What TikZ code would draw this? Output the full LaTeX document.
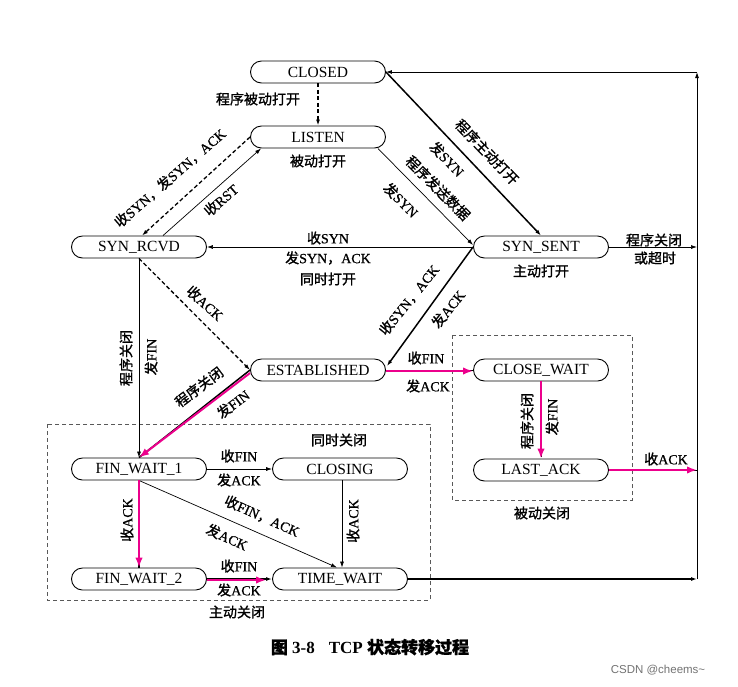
\documentclass[tikz,border=0pt]{standalone}
\usepackage{fontspec}
\setmainfont{Liberation Serif}
\setsansfont{Liberation Sans}
\newfontfamily\cjk[FakeBold=1.2]{Noto Sans CJK SC}
\newfontfamily\lblserif[FakeBold=0.8]{Liberation Serif}
\usetikzlibrary{arrows.meta}
\newcommand\zh[1]{{\cjk #1}}
\begin{document}
\begin{tikzpicture}[x=1pt,y=-1pt,
  state/.style={draw, line width=0.9pt, rounded corners=11pt, minimum width=135pt,
    minimum height=22pt, inner sep=0pt, font=\fontsize{15.5}{16}\selectfont},
  lbl/.style={inner sep=0pt, font=\lblserif\fontsize{14}{15}\selectfont},
  ar/.style={-{Latex[length=6pt,width=4pt]}, line width=0.7pt},
  thk/.style={line width=1.5pt},
  dsh/.style={line width=1.3pt, dash pattern=on 4pt off 2.5pt},
  dshthin/.style={line width=0.9pt, dash pattern=on 4pt off 2.5pt},
  mg/.style={draw=magenta, line width=2pt, -{Latex[length=10pt,width=7.5pt]}},
  box/.style={draw=black!65, line width=0.9pt, dash pattern=on 4pt off 3pt}]
\useasboundingbox[fill=white] (0,0) rectangle (738,686);

% dashed group boxes
\draw[box] (47,424) rectangle (430,600);
\draw[box] (452,335) rectangle (632,500);

% states
\node[state] (CLOSED) at (318,72) {CLOSED};
\node[state] (LISTEN) at (318,137) {LISTEN};
\node[state] (SYNR) at (139,247) {SYN\_RCVD};
\node[state] (SYNS) at (541,247) {SYN\_SENT};
\node[state] (EST) at (318,370) {ESTABLISHED};
\node[state] (CW) at (541,370) {CLOSE\_WAIT};
\node[state] (LA) at (541,470) {LAST\_ACK};
\node[state] (FW1) at (139,469) {FIN\_WAIT\_1};
\node[state] (CLG) at (340,469) {CLOSING};
\node[state] (FW2) at (139,579) {FIN\_WAIT\_2};
\node[state] (TW) at (340,579) {TIME\_WAIT};

\coordinate (rt) at (697,72);
\coordinate (r2) at (697,247);
\coordinate (r1) at (697,470);
\coordinate (rb) at (697,579);

% connectors
\draw[ar, dsh] (CLOSED.south) -- (LISTEN.north);
\draw[ar, dsh] (LISTEN.west) -- ([shift={(3,0)}]SYNR.north);
\draw[ar] ([shift={(24,0)}]SYNR.north) -- ([shift={(11,0)}]LISTEN.south west);
\draw[ar] ([shift={(-8,0)}]LISTEN.south east) -- ([shift={(0,-2)}]SYNS.west);
\draw[ar, thk] (CLOSED.east) -- (SYNS.north);
\draw[ar] (SYNS.west) -- (SYNR.east);
\draw[ar, thk] (SYNS.west) -- ([shift={(1,-4)}]EST.east);
\draw[ar, dsh] (SYNR.south) -- (EST.west);
\draw[ar] (SYNR.south) -- (FW1.north);
\draw[thk] (EST.west) -- (FW1.north);
\draw[mg] ([shift={(0,3)}]EST.west) -- (FW1.north);
\draw[dshthin] (EST.east) -- (CW.west);
\draw[mg] ([shift={(0,1)}]EST.east) -- ([shift={(0,1)}]CW.west);
\draw[dshthin] (CW.south) -- (LA.north);
\draw[mg] (CW.south) -- (LA.north);
\draw[dshthin] (LA.east) -- (r1);
\draw[mg] (LA.east) -- (r1);
\draw[ar] (SYNS.east) -- (r2);
\draw[ar] (FW1.east) -- (CLG.west);
\draw[ar] (FW1.south) -- ([shift={(-3,0)}]TW.north);
\draw[ar] ([shift={(2,0)}]CLG.south) -- ([shift={(2,0)}]TW.north);
\draw[thk] (FW1.south) -- (FW2.north);
\draw[mg] (FW1.south) -- (FW2.north);
\draw[ar, thk] (FW2.east) -- (TW.west);
\draw[mg] ([shift={(0,1)}]FW2.east) -- ([shift={(-6,1)}]TW.west);
\draw[ar, thk] (TW.east) -- (rb);
\draw[ar, line width=0.9pt] (rb) -- (rt);
\draw[ar, line width=0.9pt] (rt) -- (CLOSED.east);

% labels
\node[lbl] (la) at (258,99) {\zh{程序被动打开}};
\node[lbl] (lb) at (318,161) {\zh{被动打开}};
\node[lbl, rotate=41] (lc) at (170,178) {\zh{收}SYN\zh{，发}SYN\zh{，}ACK};
\node[lbl, rotate=41] (ld) at (221,200) {\zh{收}RST};
\node[lbl, rotate=-46] (le) at (487,152) {\zh{程序主动打开}};
\node[lbl, rotate=-46] (lf) at (447,159) {\zh{发}SYN};
\node[lbl, rotate=-45] (lg) at (438,188) {\zh{程序发送数据}};
\node[lbl, rotate=-45] (lh) at (401,200) {\zh{发}SYN};
\node[lbl] (li1) at (328,238) {\zh{收}SYN};
\node[lbl] (li2) at (328,258) {\zh{发}SYN\zh{，}ACK};
\node[lbl] (li3) at (328,279) {\zh{同时打开}};
\node[lbl] (lj) at (541,271) {\zh{主动打开}};
\node[lbl, rotate=51] (lk1) at (409,300) {\zh{收}SYN\zh{，}ACK};
\node[lbl, rotate=51] (lk2) at (448,309) {\zh{发}ACK};
\node[lbl, rotate=-42] (lm) at (205,303) {\zh{收}ACK};
\node[lbl, rotate=90] (ln1) at (126,358) {\zh{程序关闭}};
\node[lbl, rotate=90] (ln2) at (151,357) {\zh{发}FIN};
\node[lbl, rotate=37] (lo1) at (199,387) {\zh{程序关闭}};
\node[lbl, rotate=37] (lo2) at (233,404) {\zh{发}FIN};
\node[lbl] (lp1) at (426,358) {\zh{收}FIN};
\node[lbl] (lp2) at (428,386) {\zh{发}ACK};
\node[lbl, rotate=90] (lq1) at (527,421) {\zh{程序关闭}};
\node[lbl, rotate=90] (lq2) at (552,417) {\zh{发}FIN};
\node[lbl] (lr) at (666,459) {\zh{收}ACK};
\node[lbl] (ls) at (542,513) {\zh{被动关闭}};
\node[lbl] (lt1) at (654,240) {\zh{程序关闭}};
\node[lbl] (lt2) at (655,258) {\zh{或超时}};
\node[lbl] (lu) at (339,440) {\zh{同时关闭}};
\node[lbl] (lv1) at (239,456) {\zh{收}FIN};
\node[lbl] (lv2) at (239,480) {\zh{发}ACK};
\node[lbl, rotate=-24] (lw1) at (262,516) {\zh{收}FIN\zh{，}ACK};
\node[lbl, rotate=-24] (lw2) at (227,537) {\zh{发}ACK};
\node[lbl, rotate=90] (lx1) at (127,520) {\zh{收}ACK};
\node[lbl, rotate=90] (lx2) at (353,521) {\zh{收}ACK};
\node[lbl] (ly1) at (239,566) {\zh{收}FIN};
\node[lbl] (ly2) at (239,590) {\zh{发}ACK};
\node[lbl] (lz) at (237,612) {\zh{主动关闭}};

% caption and watermark
\node[inner sep=0pt, font=\fontsize{17}{18}\selectfont\bfseries] (cap) at (370,647)
  {\zh{图} 3-8\hspace{14pt}TCP \zh{状态转移过程}};
\node[inner sep=0pt, font=\sffamily\fontsize{11.5}{12}\selectfont, text=black!55] (wm) at (658,670) {CSDN @cheems\textasciitilde};
\end{tikzpicture}
\end{document}
